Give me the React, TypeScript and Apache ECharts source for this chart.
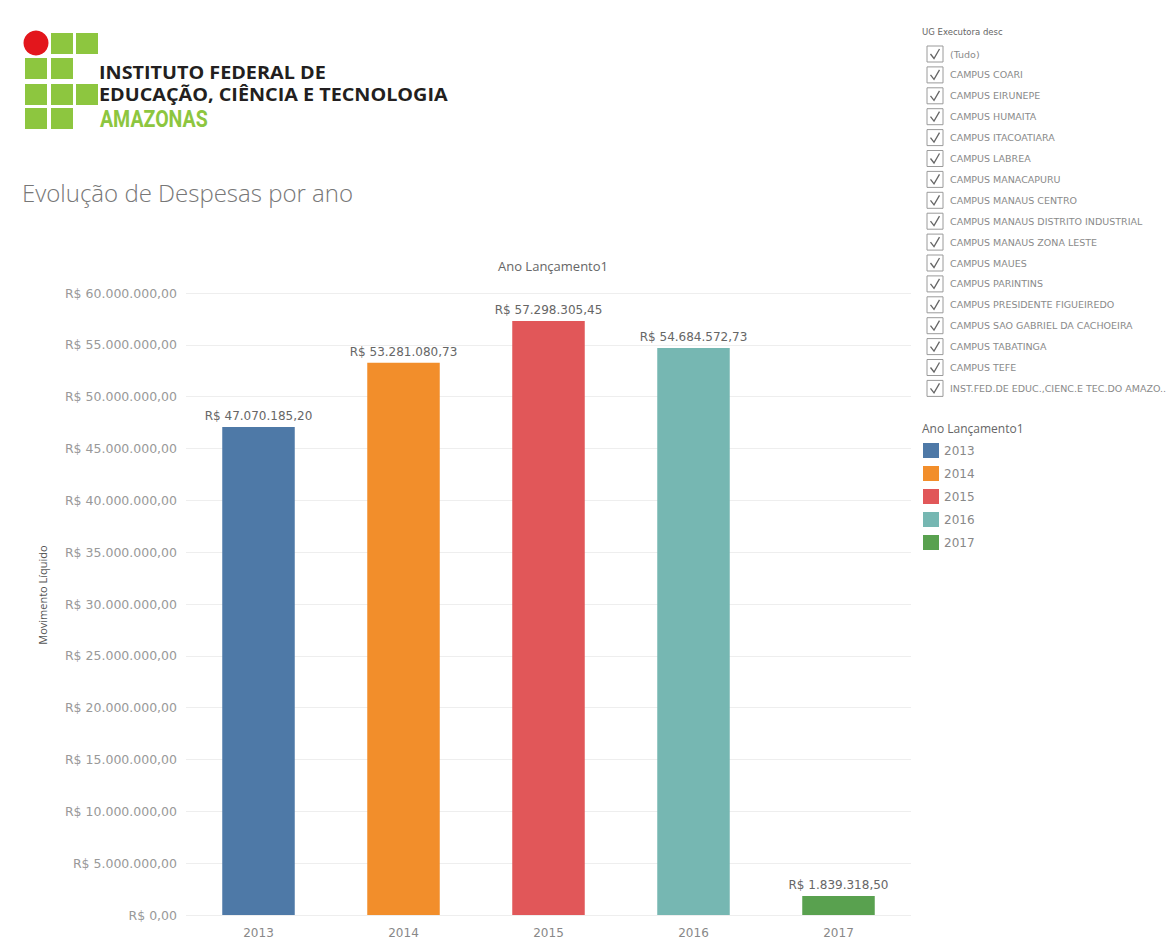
import React, { useEffect, useRef } from "react";
import * as echarts from "echarts";

const years = ["2013", "2014", "2015", "2016", "2017"];
const values = [47070185.2, 53281080.73, 57298305.45, 54684572.73, 1839318.5];
const colors = ["#4e79a7", "#f28e2b", "#e15759", "#76b7b2", "#59a14f"];
const campusList = [
  "(Tudo)",
  "CAMPUS COARI",
  "CAMPUS EIRUNEPE",
  "CAMPUS HUMAITA",
  "CAMPUS ITACOATIARA",
  "CAMPUS LABREA",
  "CAMPUS MANACAPURU",
  "CAMPUS MANAUS CENTRO",
  "CAMPUS MANAUS DISTRITO INDUSTRIAL",
  "CAMPUS MANAUS ZONA LESTE",
  "CAMPUS MAUES",
  "CAMPUS PARINTINS",
  "CAMPUS PRESIDENTE FIGUEIREDO",
  "CAMPUS SAO GABRIEL DA CACHOEIRA",
  "CAMPUS TABATINGA",
  "CAMPUS TEFE",
  "INST.FED.DE EDUC.,CIENC.E TEC.DO AMAZO..",
];
const yMax = 60000000;
const yInterval = 5000000;

function brl(v: number): string {
  const [i, d] = Math.abs(v).toFixed(2).split(".");
  return "R$ " + i.replace(/\B(?=(\d{3})+(?!\d))/g, ".") + "," + d;
}

const NUM_FONT = "DejaVu Sans";
const TXT_FONT = "Open Sans";

function buildGraphics(): any[] {
  const g: any[] = [];
  // Logo
  const green = "#8dc63f";
  const cells = [
    [1, 0], [2, 0],
    [0, 1], [1, 1],
    [0, 2], [1, 2], [2, 2],
    [0, 3], [1, 3],
  ];
  const cx = [25, 51, 76];
  const cy = [33, 58, 84, 108];
  cells.forEach(([c, r]) => {
    g.push({ type: "rect", shape: { x: cx[c], y: cy[r], width: 22, height: 21 }, style: { fill: green } });
  });
  g.push({ type: "circle", shape: { cx: 36, cy: 43, r: 12.5 }, style: { fill: "#e3161c" } });
  g.push({ type: "text", x: 99, y: 72, scaleX: 1.1, style: { text: "INSTITUTO FEDERAL DE", font: `bold 18px '${TXT_FONT}'`, fill: "#231f20", verticalAlign: "middle" } });
  g.push({ type: "text", x: 99, y: 94, scaleX: 1.1, style: { text: "EDUCAÇÃO, CIÊNCIA E TECNOLOGIA", font: `bold 18px '${TXT_FONT}'`, fill: "#231f20", verticalAlign: "middle" } });
  g.push({ type: "text", x: 100, y: 119, scaleX: 0.85, style: { text: "AMAZONAS", font: `bold 23px 'Roboto'`, fill: green, verticalAlign: "middle" } });
  // Page title
  g.push({ type: "text", x: 22, y: 192, style: { text: "Evolução de Despesas por ano", font: `300 24px '${TXT_FONT}'`, fill: "#777", verticalAlign: "middle" } });
  // Filter panel
  g.push({ type: "text", x: 922, y: 32, style: { text: "UG Executora desc", font: `8.5px '${NUM_FONT}'`, fill: "#666", verticalAlign: "middle" } });
  campusList.forEach((name, i) => {
    const y = 54 + i * 20.9;
    g.push({ type: "rect", shape: { x: 927, y: y - 8, width: 16, height: 16 }, style: { fill: "#fff", stroke: "#9a9a9a", lineWidth: 1 } });
    g.push({ type: "polyline", shape: { points: [[930.5, y], [934, y + 4.5], [939.5, y - 5]] }, style: { stroke: "#666", lineWidth: 1.3, fill: "none" } });
    g.push({ type: "text", x: 950, y: y, style: { text: name, font: `9.5px '${NUM_FONT}'`, fill: "#8a8a8a", verticalAlign: "middle" } });
  });
  // Legend title
  g.push({ type: "text", x: 922, y: 428, style: { text: "Ano Lançamento1", font: `12px '${TXT_FONT}'`, fill: "#666", verticalAlign: "middle" } });
  // y axis name
  g.push({ type: "text", x: 42, y: 595, rotation: Math.PI / 2, style: { text: "Movimento Líquido", font: `11px '${TXT_FONT}'`, fill: "#555", align: "center", verticalAlign: "middle" } });
  return g;
}

export default function App() {
  const ref = useRef<HTMLDivElement>(null);
  useEffect(() => {
    if (!ref.current) return;
    const chart = echarts.init(ref.current, undefined, { renderer: "svg" });
    const series = years.map((y, i) => ({
      name: y,
      type: "bar",
      stack: "total",
      barWidth: "50%",
      data: values.map((v, j) => (j === i ? v : "-")),
      itemStyle: { color: colors[i] },
      label: {
        show: true,
        position: "top",
        distance: 5,
        formatter: (p: any) => brl(p.value),
        fontFamily: NUM_FONT,
        fontSize: 12,
        color: "#666",
      },
    }));
    chart.setOption({
      animation: false,
      backgroundColor: "#fff",
      title: {
        text: "Ano Lançamento1",
        left: 548,
        top: 254,
        textAlign: "center",
        textStyle: { fontFamily: TXT_FONT, fontSize: 13, fontWeight: "normal", color: "#666" },
      },
      legend: {
        data: years,
        orient: "vertical",
        left: 923,
        top: 443,
        padding: 0,
        itemWidth: 16,
        itemHeight: 15,
        itemGap: 8,
        icon: "rect",
        textStyle: { fontFamily: NUM_FONT, fontSize: 12, color: "#888", lineHeight: 15 },
      },
      grid: { left: 186, right: 264, top: 293, bottom: 24, containLabel: false },
      xAxis: {
        type: "category",
        data: years,
        axisLine: { show: false },
        axisTick: { show: false },
        axisLabel: { color: "#888", fontFamily: NUM_FONT, fontSize: 12, margin: 12 },
      },
      yAxis: {
        type: "value",
        min: 0,
        max: yMax,
        interval: yInterval,
        axisLine: { show: false },
        axisTick: { show: false },
        axisLabel: { color: "#999", fontFamily: NUM_FONT, fontSize: 12.5, margin: 9, formatter: (v: number) => brl(v) },
        splitLine: { lineStyle: { color: "#eeeeee", width: 1 } },
      },
      graphic: buildGraphics(),
      series,
    });
    return () => chart.dispose();
  }, []);
  return <div ref={ref} style={{ position: "absolute", left: 0, top: 0, width: 1175, height: 939 }} />;
}
